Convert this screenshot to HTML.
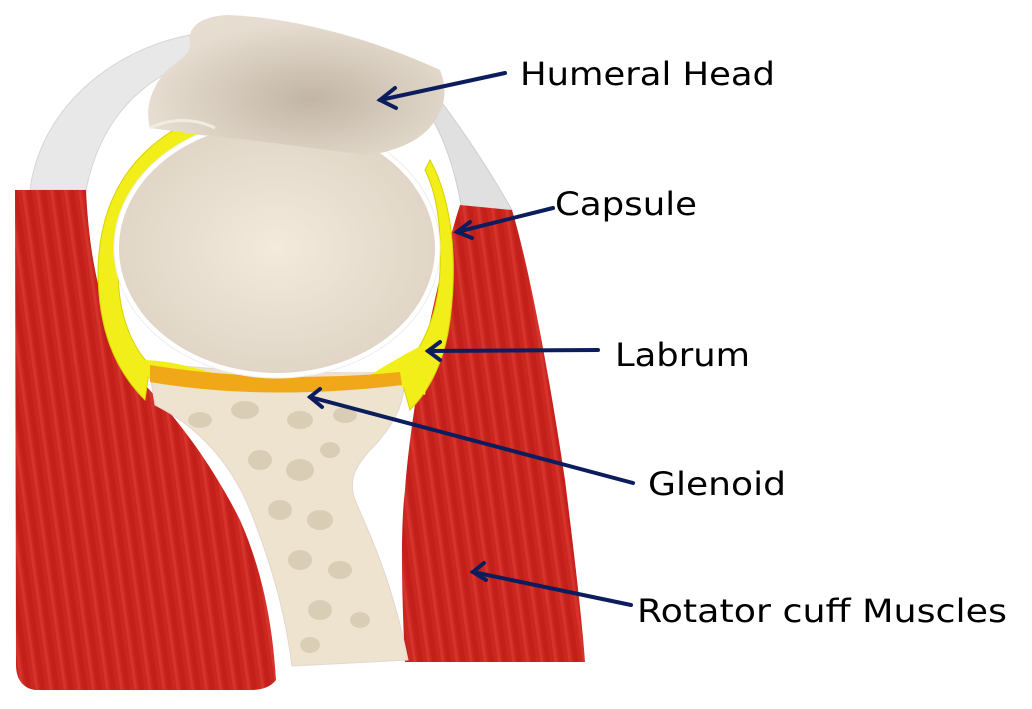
<!DOCTYPE html>
<html><head><meta charset="utf-8"><style>
html,body{margin:0;padding:0;background:#fff;width:1032px;height:709px;overflow:hidden}
text{font-family:"DejaVu Sans","Liberation Sans",sans-serif;font-size:32px;fill:#000}
</style></head><body>
<svg width="1032" height="709" viewBox="0 0 1032 709" xmlns="http://www.w3.org/2000/svg">
<defs>
<pattern id="stripes" width="14" height="40" patternUnits="userSpaceOnUse" patternTransform="rotate(-8)">
<rect width="14" height="40" fill="#cc2620"/><rect width="5" height="40" fill="#b91a15" opacity="0.5"/><rect x="9" width="3" height="40" fill="#e0483c" opacity="0.4"/>
</pattern>
<radialGradient id="head" cx="0.5" cy="0.5" r="0.6">
<stop offset="0" stop-color="#f3eadc"/><stop offset="1" stop-color="#ddd2c2"/>
</radialGradient>
<radialGradient id="top" cx="0.55" cy="0.6" r="0.55">
<stop offset="0" stop-color="#c2b5a4"/><stop offset="1" stop-color="#e6ddd0"/>
</radialGradient>
</defs>
<!-- white/grey bands -->
<path d="M30,190 C40,110 110,50 190,35 L195,60 C140,80 100,120 86,190 Z" fill="#e8e8e8" stroke="#d6d6d6"/>
<path d="M440,100 C470,140 495,180 512,210 L462,210 C455,170 445,140 430,115 Z" fill="#e0e0e0" stroke="#cfcfcf"/>
<!-- left muscle -->
<path d="M15,190 L86,190 C90,280 110,340 140,380 C180,420 215,470 240,520 C262,570 272,620 276,680 C270,688 260,690 250,690 L35,690 C22,688 16,678 16,665 Z" fill="url(#stripes)"/>
<!-- right muscle -->
<path d="M460,205 L512,210 C530,270 550,380 565,480 C575,560 582,620 585,662 L405,662 C402,600 400,530 405,490 C410,420 430,300 460,205 Z" fill="url(#stripes)"/>
<!-- glenoid bone -->
<path d="M148,362 C220,372 320,374 405,372 C405,400 398,420 375,445 C355,465 348,480 355,500 C370,535 392,580 408,660 L292,666 C285,610 270,560 250,510 C230,460 195,425 155,405 Z" fill="#eee3cf" stroke="#e5d5d0"/>
<g fill="#cdbfa6" opacity="0.6">
<ellipse cx="200" cy="420" rx="12" ry="8"/><ellipse cx="245" cy="410" rx="14" ry="9"/><ellipse cx="300" cy="420" rx="13" ry="9"/><ellipse cx="345" cy="415" rx="12" ry="8"/>
<ellipse cx="260" cy="460" rx="12" ry="10"/><ellipse cx="300" cy="470" rx="14" ry="11"/><ellipse cx="330" cy="450" rx="10" ry="8"/>
<ellipse cx="280" cy="510" rx="12" ry="10"/><ellipse cx="320" cy="520" rx="13" ry="10"/><ellipse cx="300" cy="560" rx="12" ry="10"/>
<ellipse cx="340" cy="570" rx="12" ry="9"/><ellipse cx="320" cy="610" rx="12" ry="10"/><ellipse cx="360" cy="620" rx="10" ry="8"/><ellipse cx="310" cy="645" rx="10" ry="8"/>
</g>
<!-- capsule yellow -->
<path d="M98,270 C100,180 150,130 230,105 L250,115 C170,140 118,190 118,270 C118,320 135,350 150,365 L145,400 C115,370 98,330 98,270 Z" fill="#f2ee1a" stroke="#d8d200"/>
<path d="M430,160 C452,200 458,260 450,320 C445,360 430,390 410,410 L400,375 C420,350 438,320 440,270 C442,220 435,190 425,170 Z" fill="#f2ee1a" stroke="#d8d200"/>
<path d="M140,360 C170,360 195,368 220,375 L150,380 Z" fill="#f2ee1a"/>
<path d="M370,375 C395,360 420,345 435,340 L425,395 Z" fill="#f2ee1a"/>
<!-- glenoid cartilage orange -->
<path d="M150,365 C230,378 320,380 400,372 L402,385 C320,395 230,396 150,382 Z" fill="#f0a818"/>
<!-- humeral head -->
<ellipse cx="277" cy="248" rx="163" ry="130" fill="#fff" stroke="#eee"/>
<ellipse cx="277" cy="248" rx="158" ry="125" fill="url(#head)"/>
<path d="M190,45 C186,28 200,16 228,15 C300,18 380,42 440,70 C447,88 447,105 432,125 C420,140 400,150 370,155 C320,150 260,140 200,135 C180,132 165,130 150,128 C145,110 150,90 165,72 C178,60 190,55 190,45 Z" fill="url(#top)"/>
<path d="M150,128 C170,118 195,118 215,128" stroke="#f2ebe0" stroke-width="3" fill="none"/>
<!-- arrows -->
<g stroke="#0c1d5e" stroke-width="4" fill="none" stroke-linecap="round">
<line x1="505" y1="73" x2="380" y2="100"/><polyline points="395,88 380,100 396,108"/>
<line x1="553" y1="208" x2="457" y2="232"/><polyline points="470,222 457,232 472,238"/>
<line x1="598" y1="350" x2="428" y2="351"/><polyline points="440,342 428,351 440,360"/>
<line x1="633" y1="483" x2="310" y2="397"/><polyline points="320,389 310,397 322,407"/>
<line x1="631" y1="605" x2="473" y2="572"/><polyline points="484,563 473,572 486,580"/>
</g>
<text x="520" y="85" textLength="255" lengthAdjust="spacingAndGlyphs">Humeral Head</text>
<text x="555" y="215" textLength="142" lengthAdjust="spacingAndGlyphs">Capsule</text>
<text x="615" y="366" textLength="135" lengthAdjust="spacingAndGlyphs">Labrum</text>
<text x="648" y="495" textLength="138" lengthAdjust="spacingAndGlyphs">Glenoid</text>
<text x="637" y="622" textLength="370" lengthAdjust="spacingAndGlyphs">Rotator cuff Muscles</text>
</svg>
</body></html>
